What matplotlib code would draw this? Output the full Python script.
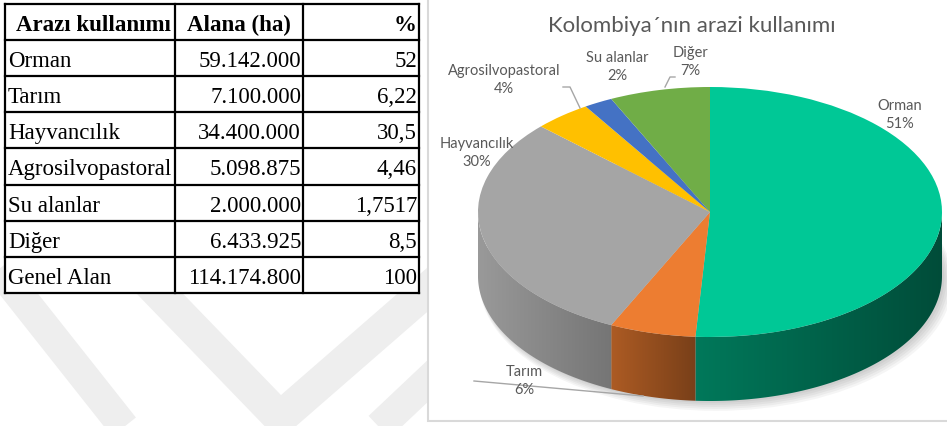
import numpy as np
import matplotlib.pyplot as plt
from matplotlib.patches import Rectangle, Ellipse, Polygon
import matplotlib.colors as mcolors

# Table data
table_header = ['Arazı kullanımı', 'Alana (ha)', '%']
land_use = ['Orman', 'Tarım', 'Hayvancılık', 'Agrosilvopastoral',
            'Su alanlar', 'Diğer', 'Genel Alan']
area_ha = ['59.142.000', '7.100.000', '34.400.000', '5.098.875',
           '2.000.000', '6.433.925', '114.174.800']
share_pct = ['52', '6,22', '30,5', '4,46', '1,7517', '8,5', '100']

# Pie data (as labelled on the chart)
pie_title = 'Kolombiya´nın arazi kullanımı'
pie_labels = ['Orman', 'Tarım', 'Hayvancılık', 'Agrosilvopastoral',
              'Su alanlar', 'Diğer']
pie_pct = [51, 6, 30, 4, 2, 7]
pie_colors = ['#00C896', '#ED7D31', '#A5A5A5', '#FFC000', '#4472C4', '#70AD47']

W, H = 947, 426
fig = plt.figure(figsize=(W / 100, H / 100), dpi=100)
fig.patch.set_facecolor('white')

# background axes in pixel units
bg = fig.add_axes([0, 0, 1, 1])
bg.set_xlim(0, W)
bg.set_ylim(H, 0)
bg.axis('off')

# faint watermark bands
wm = '#EEEEEE'
bg.plot([-5, 135], [264, 441], color=wm, lw=22, solid_capstyle='butt', zorder=0)
bg.plot([135, 280, 450], [268, 418, 270], color=wm, lw=24,
        solid_capstyle='butt', solid_joinstyle='miter', zorder=0)
bg.plot([360, 450], [445, 360], color=wm, lw=22, solid_capstyle='butt', zorder=0)

# table
col_x = [5, 175, 303, 419]
row_top, row_h = 4, 36.1
n_rows = len(land_use) + 1
serif = ['Tinos', 'Liberation Serif', 'Noto Serif']
tfont = dict(fontfamily=serif, fontsize=16.5, color='black')
bg.add_patch(Rectangle((col_x[0], row_top), col_x[-1] - col_x[0], row_h * n_rows,
                       facecolor='white', edgecolor='none', zorder=1))
for i in range(n_rows + 1):
    y = row_top + i * row_h
    bg.plot([col_x[0], col_x[-1]], [y, y], color='black',
            lw=1.6, solid_capstyle='projecting', zorder=2)
for x in col_x:
    bg.plot([x, x], [row_top, row_top + n_rows * row_h], color='black',
            lw=1.6, solid_capstyle='projecting', zorder=2)

base = row_top + 27
bg.text((col_x[0] + col_x[1]) / 2 + 3, base, table_header[0], ha='center',
        va='baseline', fontweight='bold', **tfont, zorder=3)
bg.text((col_x[1] + col_x[2]) / 2, base, table_header[1], ha='center',
        va='baseline', fontweight='bold', **tfont, zorder=3)
bg.text(col_x[3] - 3, base, table_header[2], ha='right',
        va='baseline', fontweight='bold', **tfont, zorder=3)
for i, (name, area, pct) in enumerate(zip(land_use, area_ha, share_pct)):
    yb = row_top + (i + 1) * row_h + 27
    bg.text(col_x[0] + 3, yb, name, ha='left', va='baseline', **tfont, zorder=3)
    bg.text(col_x[2] - 2, yb, area, ha='right', va='baseline', **tfont, zorder=3)
    bg.text(col_x[3] - 2, yb, pct, ha='right', va='baseline', **tfont, zorder=3)

# chart area
cx0, cy1 = 428, 421
bg.add_patch(Rectangle((cx0, -5), W - cx0 + 5, cy1 + 5, facecolor='white',
                       edgecolor='#D9D9D9', lw=1.5, zorder=1))

# pie axes: unit circle -> ellipse with semi-axes 232 x 125 px at (710, 212)
pcx, pcy, ra, rb = 710, 212, 232, 125
depth = 64 / rb
ax = fig.add_axes([cx0 / W, (H - cy1) / H, (W - cx0) / W, cy1 / H])
ax.set_zorder(2)
wedges, _ = ax.pie(pie_pct, colors=pie_colors, startangle=90, counterclock=False,
                   radius=1, center=(0, 0), wedgeprops=dict(linewidth=0))
for w in wedges:
    w.set_zorder(5)

# soft shadow under the base
for k in range(5):
    ax.add_patch(Ellipse((0.01 + 0.004 * k, -depth - 0.015 - 0.008 * k),
                         2.0 + 0.01 * k, 2.0 + 0.016 * k,
                         facecolor='black', alpha=0.04, edgecolor='none', zorder=1))

# side walls with horizontal gradient shading
for w, col in zip(wedges, pie_colors):
    rgb = np.array(mcolors.to_rgb(col))
    angs = np.linspace(w.theta1, w.theta2, 400)
    vis = angs[np.sin(np.radians(angs)) <= 0]
    if len(vis) < 2:
        continue
    rad = np.radians(vis)
    xs, ys = np.cos(rad), np.sin(rad)
    pts = np.vstack([np.column_stack([xs, ys]),
                     np.column_stack([xs[::-1], ys[::-1] - depth])])
    side = Polygon(pts, closed=True, facecolor='none', edgecolor='none')
    ax.add_patch(side)
    xl, xr = xs.min(), xs.max()
    a_f = 0.93 - 0.7 * (xl + 1) / 2
    u = np.linspace(0, 1, 200)
    grad = np.clip(rgb[None, :] * (a_f - 0.22 * u)[:, None], 0, 1)
    im = ax.imshow(grad[None, :, :], extent=(xl, xr, -1 - depth, 0.05),
                   aspect='auto', interpolation='bilinear', zorder=3)
    im.set_clip_path(side)

ax.set_aspect('auto')
ax.set_xlim((cx0 - pcx) / ra, (W - pcx) / ra)
ax.set_ylim((pcy - cy1) / rb, pcy / rb)
ax.axis('off')

# overlay axes for labels (pixel units)
ov = fig.add_axes([0, 0, 1, 1])
ov.set_zorder(3)
ov.set_xlim(0, W)
ov.set_ylim(H, 0)
ov.axis('off')
lfont = dict(fontfamily='Lato', color='#595959')
ov.text(692, 26, pie_title, ha='center', va='center', fontsize=16, **lfont)

label_pos = [(900, 115), (524, 381), (477, 153), (504, 80), (617, 67), (690, 62)]
for name, pct, (lx, ly) in zip(pie_labels, pie_pct, label_pos):
    ov.text(lx, ly, f'{name}\n{pct}%', ha='center', va='center', fontsize=10.5,
            linespacing=1.45, **lfont)

lc = '#A6A6A6'
ov.plot([563, 570, 580], [87, 87, 108], color=lc, lw=1)
ov.plot([675, 670, 665], [77, 77, 87], color=lc, lw=1)
ov.plot([474, 643], [381, 396], color=lc, lw=1)

fig.savefig('out.png', dpi=100, facecolor='white')
